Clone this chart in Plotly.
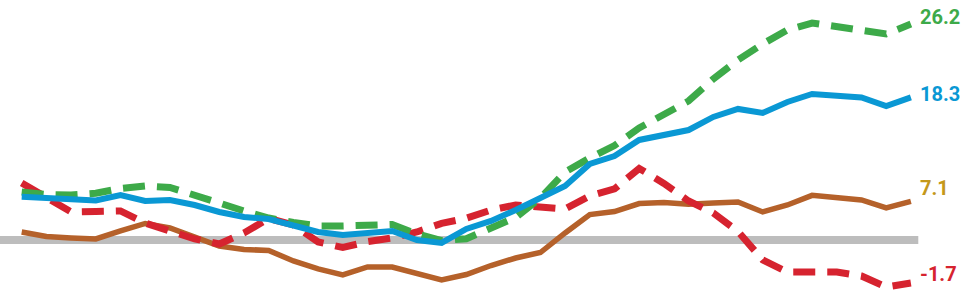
import plotly.graph_objects as go

periods = list(range(37))

green_vals = [8.10, 7.83, 7.78, 7.96, 8.48, 8.75, 8.59, 7.67, 6.92, 6.06,
              5.30, 4.82, 4.44, 4.44, 4.59, 4.60, 3.58, 2.87, 3.07, 4.12,
              5.36, 7.46, 10.26, 11.77, 13.11, 15.00, 16.40, 17.91, 20.28, 22.33,
              24.05, 25.56, 26.31, 25.94, 25.51, 25.13, 26.2]
blue_vals = [7.60, 7.46, 7.35, 7.19, 7.78, 7.13, 7.24, 6.70, 5.95, 5.41,
             5.19, 4.44, 3.79, 3.47, 3.69, 3.90, 2.93, 2.61, 4.12, 4.98,
             6.16, 7.46, 8.75, 11.12, 11.98, 13.71, 14.25, 14.78, 16.19, 17.05,
             16.62, 17.80, 18.66, 18.45, 18.29, 17.37, 18.3]
brown_vals = [3.79, 3.31, 3.15, 3.04, 3.90, 4.71, 4.22, 3.25, 2.28, 1.91,
              1.80, 0.67, -0.19, -0.84, 0.02, 0.02, -0.68, -1.38, -0.79, 0.18,
              0.99, 1.58, 3.69, 5.67, 5.99, 6.86, 6.97, 6.77, 6.92, 7.03,
              5.95, 6.70, 7.74, 7.50, 7.24, 6.38, 7.1]
red_vals = [9.07, 7.56, 5.95, 6.00, 6.06, 4.76, 3.90, 3.04, 2.50, 3.69,
            5.25, 4.55, 2.72, 2.12, 2.75, 3.15, 3.79, 4.72, 5.27, 6.16,
            6.70, 6.49, 6.27, 7.67, 8.43, 10.64, 9.02, 7.13, 5.84, 3.85,
            0.78, -0.52, -0.52, -0.52, -0.95, -2.13, -1.7]
baseline_value = 2.93

end_labels = ["26.2", "18.3", "7.1", "-1.7"]

C_GREEN = "#3DAA49"
C_BLUE = "#0A98D4"
C_BROWN = "#B5612A"
C_RED = "#D6232F"
C_GOLD = "#C4981A"
C_GRAY = "#BDBDBD"

fig = go.Figure()

fig.add_shape(type="line", x0=-0.88, x1=36.3, y0=baseline_value, y1=baseline_value,
              xref="x", yref="y", line=dict(color=C_GRAY, width=8), layer="below")

fig.add_trace(go.Scatter(x=periods, y=brown_vals, mode="lines",
                         line=dict(color=C_BROWN, width=5.5), hoverinfo="skip"))
fig.add_trace(go.Scatter(x=periods, y=red_vals, mode="lines",
                         line=dict(color=C_RED, width=7, dash="22px,12px"), hoverinfo="skip"))
fig.add_trace(go.Scatter(x=periods, y=green_vals, mode="lines",
                         line=dict(color=C_GREEN, width=7, dash="22px,12px"), hoverinfo="skip"))
fig.add_trace(go.Scatter(x=periods, y=blue_vals, mode="lines",
                         line=dict(color=C_BLUE, width=6), hoverinfo="skip"))

label_specs = [
    (green_vals[-1], end_labels[0], C_GREEN, 7),
    (blue_vals[-1], end_labels[1], C_BLUE, 3),
    (brown_vals[-1], end_labels[2], C_GOLD, 13),
    (red_vals[-1], end_labels[3], C_RED, 9),
]
for yv, txt, col, ys in label_specs:
    fig.add_annotation(x=periods[-1], y=yv, text=f"<b>{txt}</b>", showarrow=False,
                       xanchor="left", yanchor="middle", xshift=7, yshift=ys,
                       font=dict(family="Roboto", size=20, color=col))

fig.update_layout(
    width=963, height=298,
    margin=dict(l=0, r=0, t=0, b=0),
    paper_bgcolor="white", plot_bgcolor="white",
    showlegend=False,
    xaxis=dict(range=[-0.879, 38.11], visible=False, fixedrange=True),
    yaxis=dict(range=[-3.32, 28.79], visible=False, fixedrange=True),
)

fig.write_html("out.html")
